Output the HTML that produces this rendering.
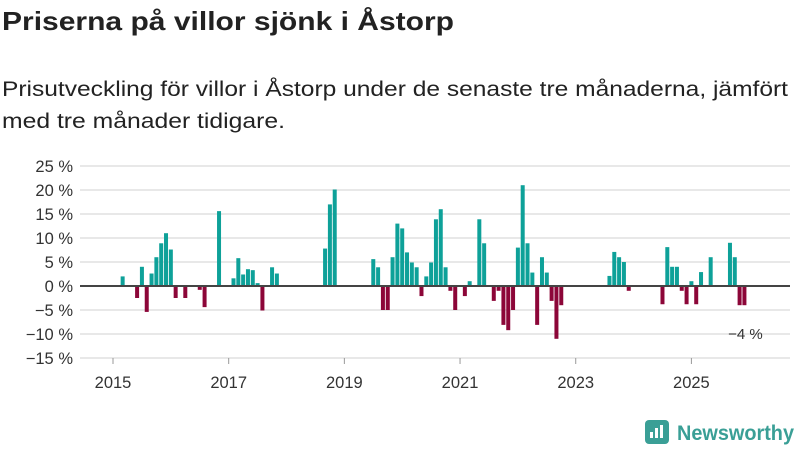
<!DOCTYPE html>
<html><head><meta charset="utf-8">
<style>
body{margin:0;background:#fff;font-family:"Liberation Sans","DejaVu Sans",sans-serif;color:#222;}
#wrap{position:relative;width:800px;height:450px;overflow:hidden;}
</style></head><body>
<div id="wrap">
<svg id="chart" width="800" height="450" style="position:absolute;left:0;top:0">
<text x="2" y="30" font-size="26" font-weight="bold" fill="#222" textLength="452" lengthAdjust="spacingAndGlyphs" font-family="Liberation Sans, sans-serif">Priserna på villor sjönk i Åstorp</text>
<text x="2" y="96" font-size="21" fill="#222" textLength="786" lengthAdjust="spacingAndGlyphs" font-family="Liberation Sans, sans-serif">Prisutveckling för villor i Åstorp under de senaste tre månaderna, jämfört</text>
<text x="2" y="128" font-size="21" fill="#222" textLength="283" lengthAdjust="spacingAndGlyphs" font-family="Liberation Sans, sans-serif">med tre månader tidigare.</text>
</svg>
</div>
<script>
const months=["2015-03","2015-06","2015-07","2015-08","2015-09","2015-10","2015-11","2015-12","2016-01","2016-02","2016-04","2016-07","2016-08","2016-11","2017-02","2017-03","2017-04","2017-05","2017-06","2017-07","2017-08","2017-10","2017-11","2018-09","2018-10","2018-11","2019-07","2019-08","2019-09","2019-10","2019-11","2019-12","2020-01","2020-02","2020-03","2020-04","2020-05","2020-06","2020-07","2020-08","2020-09","2020-10","2020-11","2020-12","2021-02","2021-03","2021-05","2021-06","2021-08","2021-09","2021-10","2021-11","2021-12","2022-01","2022-02","2022-03","2022-04","2022-05","2022-06","2022-07","2022-08","2022-09","2022-10","2023-08","2023-09","2023-10","2023-11","2023-12","2024-07","2024-08","2024-09","2024-10","2024-11","2024-12","2025-01","2025-02","2025-03","2025-05","2025-09","2025-10","2025-11","2025-12"];
const values=[2,-2.5,4,-5.4,2.6,6,8.9,11,7.6,-2.5,-2.5,-0.8,-4.4,15.6,1.6,5.8,2.4,3.5,3.3,0.6,-5.1,3.9,2.6,7.8,17,20.1,5.6,3.9,-5,-5,6,13,12,7,4.9,3.9,-2.1,2,4.9,13.9,16,3.9,-1,-5,-2.1,1,13.9,8.9,-3.1,-1,-8.1,-9.2,-5,8,21,8.9,2.8,-8.1,6,2.8,-3.1,-11,-4,2.1,7.1,6,5,-1,-3.8,8.1,4,4,-1,-3.8,1,-3.8,2.9,6,9,6,-4,-4];
const yTicks=[25,20,15,10,5,0,-5,-10,-15];
const xTicks=[2015,2017,2019,2021,2023,2025];
const svg=document.getElementById('chart');const NS='http://www.w3.org/2000/svg';
const L=80,R=790,y0=286,ppu=4.8;
const y=v=>y0-v*ppu;
const x=m=>{const [a,b]=m.split('-').map(Number);return 113+((a-2015)*12+(b-1))*4.82;};
function mk(t,at){const e=document.createElementNS(NS,t);for(const k in at)e.setAttribute(k,at[k]);svg.appendChild(e);return e;}
yTicks.forEach(t=>{
 const g=mk('line',{x1:L,x2:R,y1:y(t),y2:y(t),stroke:'#e0e0e0','stroke-width':1.5});
 
 
 const l=mk('text',{x:73,y:y(t)+6,'text-anchor':'end','font-size':16.5,fill:'#333','font-family':'Liberation Sans, sans-serif'});
 l.textContent=(t<0?'−'+(-t):t)+' %';
 
 
});
xTicks.forEach(t=>{
 const xx=x(t+'-01');
 const tk=mk('line',{x1:xx,x2:xx,y1:358,y2:364,stroke:'#999'});
 
 
 const l=mk('text',{x:xx,y:388,'text-anchor':'middle','font-size':16.5,fill:'#333','font-family':'Liberation Sans, sans-serif'});
 l.textContent=t;
 
 
});
months.forEach((m,i)=>{
 const v=values[i];const xx=x(m);
 const r=mk('rect',{x:xx-2,width:4,y:v>=0?y(v):y0,height:Math.abs(v)*ppu,fill:v>=0?'#0ea199':'#8c0638'});
 
 
});
const ax=mk('line',{x1:L,x2:R,y1:y0,y2:y0,stroke:'#444','stroke-width':2});


const last=values[values.length-1];
const lab=mk('text',{x:x(months[months.length-1])+1,y:y(last)+34,'text-anchor':'middle','font-size':15,fill:'#333','font-family':'Liberation Sans, sans-serif'});
lab.textContent='−'+Math.abs(Math.round(last))+' %';


const ic=mk('rect',{x:645,y:420,width:24,height:24,rx:4,fill:'#3a9f96'});


[[650,432,3],[655,428,3],[660,425,3]].forEach(b=>{const bb=mk('rect',{x:b[0],y:b[1],width:b[2],height:438-b[1],fill:'#fff'});});
const lt=mk('text',{x:677,y:440,'font-size':21,fill:'#3a9f96','font-weight':'bold','font-family':'Liberation Sans, sans-serif',textLength:117,lengthAdjust:'spacingAndGlyphs'});
lt.textContent='Newsworthy';


</script>
</body></html>
